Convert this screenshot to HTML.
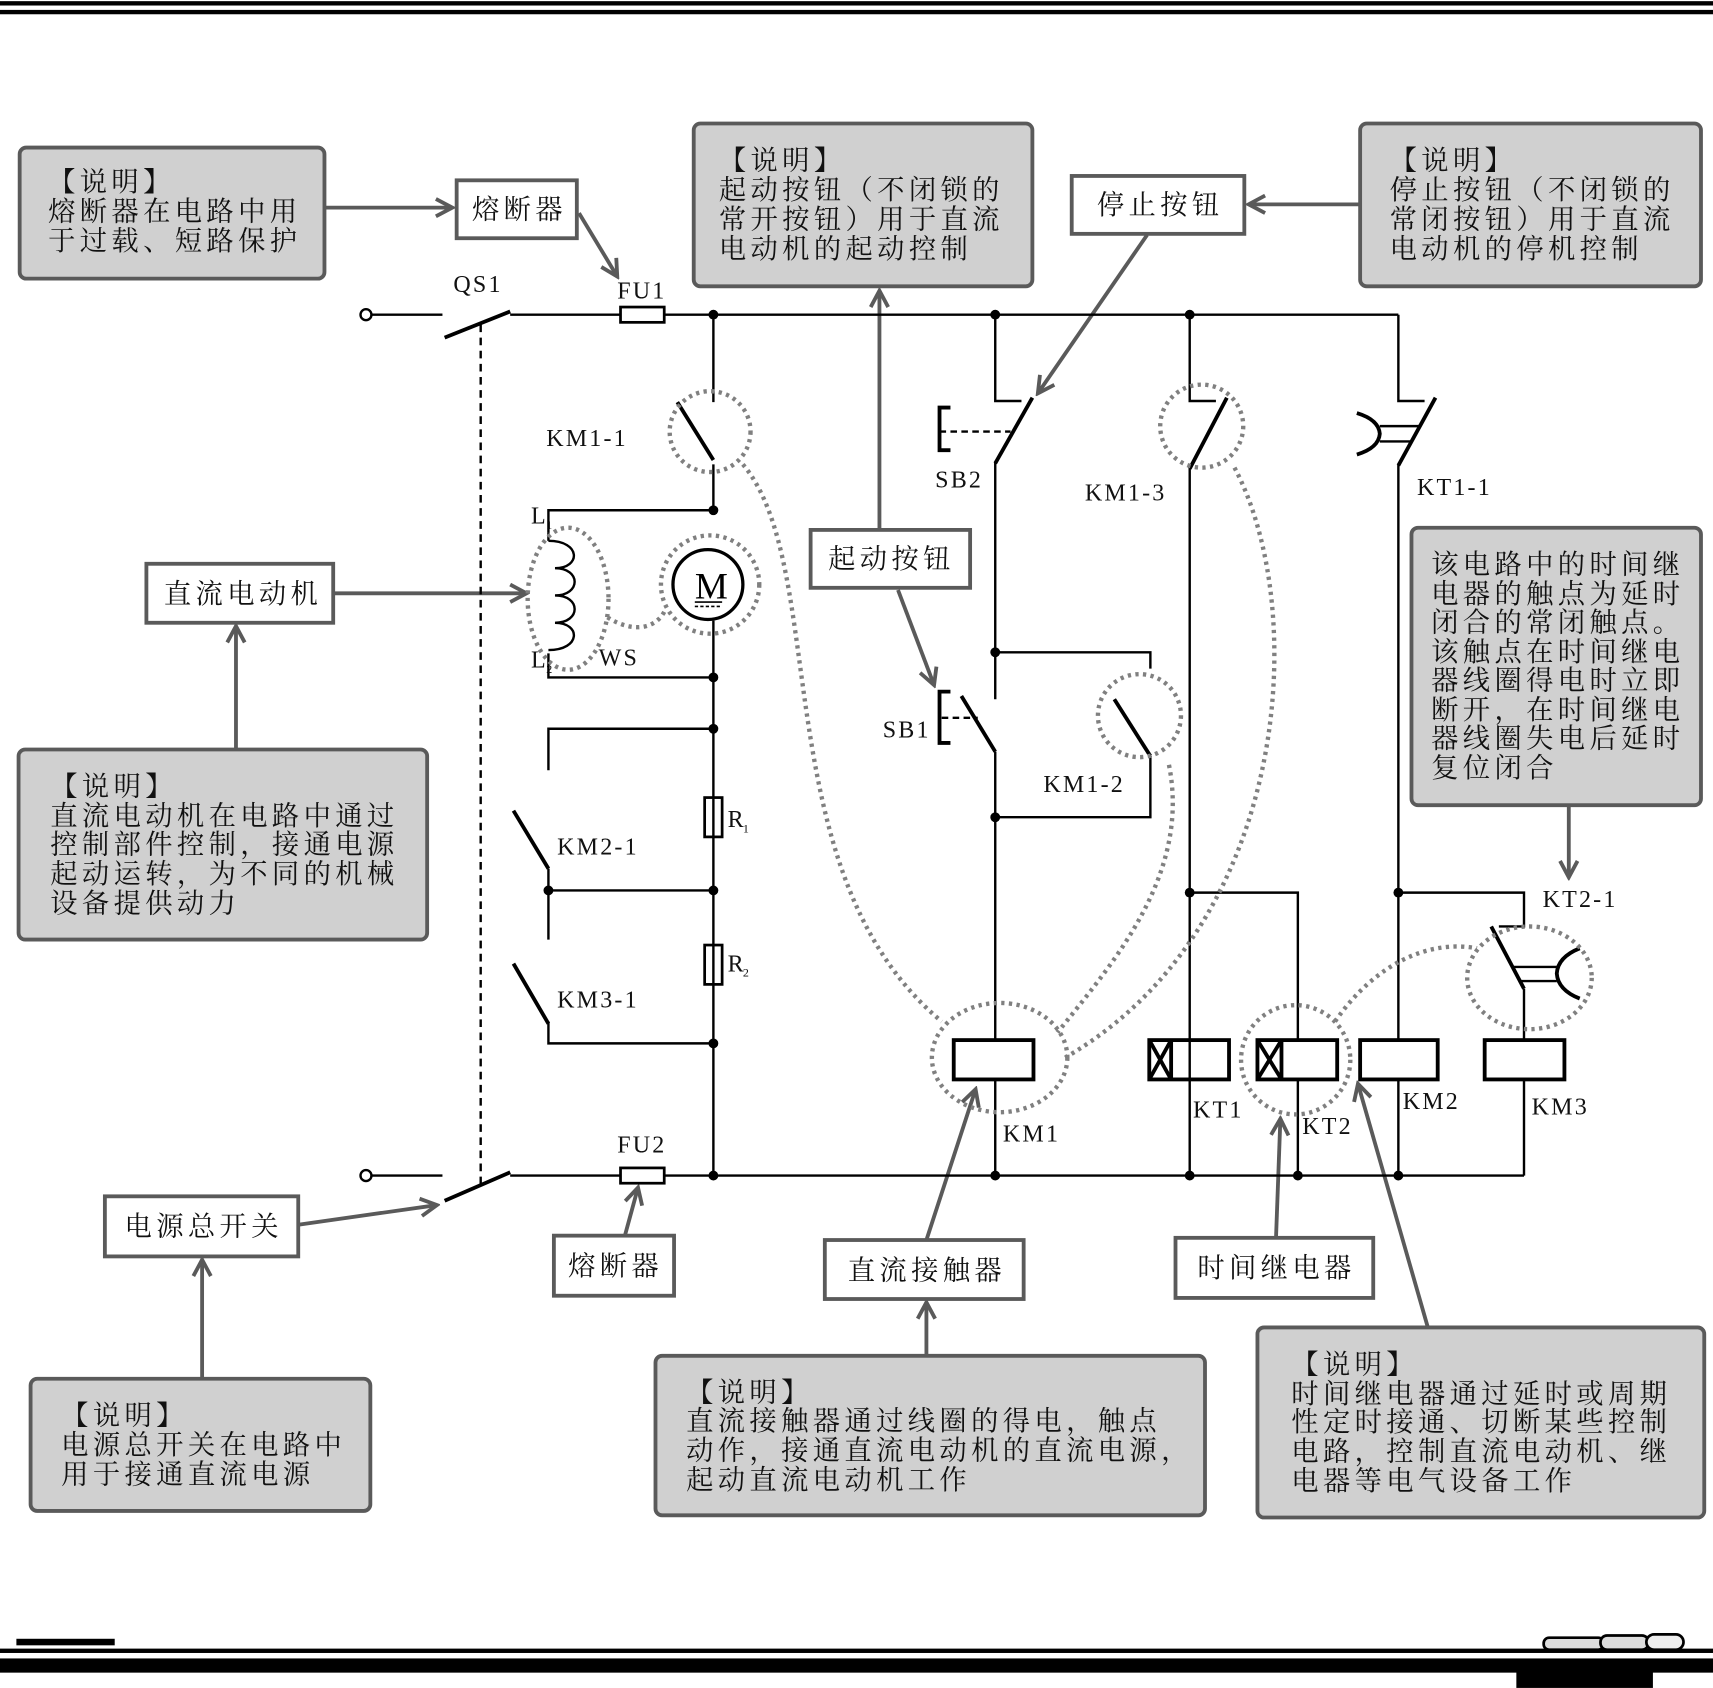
<!DOCTYPE html>
<html><head><meta charset="utf-8"><style>
html,body{margin:0;padding:0;background:#fff;}
svg{display:block;}
.cn{font-family:"Liberation Sans","Noto Serif CJK SC","Noto Sans CJK SC",sans-serif;font-size:25px;letter-spacing:4px;fill:#111;}
.lb{font-family:"Liberation Serif",serif;font-size:22px;fill:#111;letter-spacing:2px;}
.sub{font-family:"Liberation Serif",serif;font-size:11px;fill:#111;}
.gb{fill:#d0d0d0;stroke:#5a5a5a;stroke-width:3.5;}
.wb{fill:#fff;stroke:#5a5a5a;stroke-width:3.5;}
.w{stroke:#000;stroke-width:2.2;fill:none;}
.bl{stroke:#000;stroke-width:3.5;fill:none;}
.ar{stroke:#5a5a5a;stroke-width:3.5;fill:none;}
.dt{stroke:#808080;stroke-width:4;fill:none;stroke-dasharray:3 4;}
</style></head><body>
<svg width="1713" height="1688" viewBox="0 0 1568 1545" xmlns="http://www.w3.org/2000/svg">
<defs><marker id="a" markerWidth="10" markerHeight="10" refX="8" refY="5" orient="auto" markerUnits="userSpaceOnUse"><path d="M0,0 L9,5 L0,10" stroke="#5a5a5a" stroke-width="3" fill="none"/></marker>
<marker id="b" markerWidth="20" markerHeight="20" refX="17" refY="10" orient="auto" markerUnits="userSpaceOnUse"><path d="M2,2 L17,10 L2,18" stroke="#5a5a5a" stroke-width="3.5" fill="none"/></marker></defs>
<!-- borders -->
<rect x="0" y="1" width="1568" height="4" fill="#000"/>
<rect x="0" y="9" width="1568" height="4" fill="#000"/>
<rect x="15" y="1500" width="90" height="6" fill="#000"/>
<rect x="0" y="1509" width="1568" height="4" fill="#000"/>
<rect x="0" y="1518" width="1568" height="13" fill="#000"/>
<rect x="1388" y="1530" width="125" height="15" fill="#000"/>
<rect x="1413" y="1499" width="55" height="11" rx="5" fill="#ddd" stroke="#000" stroke-width="2.5"/>
<rect x="1465" y="1497" width="44" height="13" rx="6" fill="#ddd" stroke="#000" stroke-width="2.5"/>
<rect x="1507" y="1496" width="34" height="14" rx="7" fill="#eee" stroke="#000" stroke-width="2.5"/>

<!-- gray boxes -->
<rect class="gb" x="18" y="135" width="279" height="120" rx="6"/>
<text class="cn" x="44" y="175">【说明】</text><text class="cn" x="44" y="202">熔断器在电路中用</text><text class="cn" x="44" y="229">于过载、短路保护</text>
<rect class="gb" x="635" y="113" width="310" height="149" rx="6"/>
<text class="cn" x="658" y="155">【说明】</text><text class="cn" x="658" y="182">起动按钮（不闭锁的</text><text class="cn" x="658" y="209">常开按钮）用于直流</text><text class="cn" x="658" y="236">电动机的起动控制</text>
<rect class="gb" x="1245" y="113" width="312" height="149" rx="6"/>
<text class="cn" x="1272" y="155">【说明】</text><text class="cn" x="1272" y="182">停止按钮（不闭锁的</text><text class="cn" x="1272" y="209">常闭按钮）用于直流</text><text class="cn" x="1272" y="236">电动机的停机控制</text>
<rect class="gb" x="1292" y="483" width="265" height="254" rx="6"/>
<g class="cn"><text x="1310" y="525">该电路中的时间继</text><text x="1310" y="552">电器的触点为延时</text><text x="1310" y="578">闭合的常闭触点。</text><text x="1310" y="605">该触点在时间继电</text><text x="1310" y="631">器线圈得电时立即</text><text x="1310" y="658">断开，在时间继电</text><text x="1310" y="684">器线圈失电后延时</text><text x="1310" y="711">复位闭合</text></g>
<rect class="gb" x="17" y="686" width="374" height="174" rx="6"/>
<g class="cn"><text x="46" y="728">【说明】</text><text x="46" y="755">直流电动机在电路中通过</text><text x="46" y="781">控制部件控制，接通电源</text><text x="46" y="808">起动运转，为不同的机械</text><text x="46" y="835">设备提供动力</text></g>
<rect class="gb" x="28" y="1262" width="311" height="121" rx="6"/>
<g class="cn"><text x="56" y="1304">【说明】</text><text x="56" y="1331">电源总开关在电路中</text><text x="56" y="1358">用于接通直流电源</text></g>
<rect class="gb" x="600" y="1241" width="503" height="146" rx="6"/>
<g class="cn"><text x="628" y="1283">【说明】</text><text x="628" y="1309">直流接触器通过线圈的得电，触点</text><text x="628" y="1336">动作，接通直流电动机的直流电源，</text><text x="628" y="1363">起动直流电动机工作</text></g>
<rect class="gb" x="1151" y="1215" width="409" height="174" rx="6"/>
<g class="cn"><text x="1182" y="1257">【说明】</text><text x="1182" y="1284">时间继电器通过延时或周期</text><text x="1182" y="1310">性定时接通、切断某些控制</text><text x="1182" y="1337">电路，控制直流电动机、继</text><text x="1182" y="1364">电器等电气设备工作</text></g>

<!-- white label boxes -->
<rect class="wb" x="418" y="165" width="110" height="53"/><text class="cn" x="432" y="200">熔断器</text>
<rect class="wb" x="981" y="161" width="158" height="53"/><text class="cn" x="1004" y="196">停止按钮</text>
<rect class="wb" x="742" y="485" width="146" height="53"/><text class="cn" x="758" y="520">起动按钮</text>
<rect class="wb" x="134" y="516" width="171" height="54"/><text class="cn" x="150" y="552">直流电动机</text>
<rect class="wb" x="96" y="1095" width="177" height="55"/><text class="cn" x="114" y="1131">电源总开关</text>
<rect class="wb" x="507" y="1131" width="110" height="55"/><text class="cn" x="520" y="1167">熔断器</text>
<rect class="wb" x="755" y="1135" width="182" height="54"/><text class="cn" x="776" y="1171">直流接触器</text>
<rect class="wb" x="1076" y="1133" width="181" height="55"/><text class="cn" x="1096" y="1169">时间继电器</text>

<!-- arrows -->
<g class="ar" marker-end="url(#b)">
<line x1="297" y1="190" x2="414" y2="190"/>
<line x1="530" y1="195" x2="565" y2="253"/>
<line x1="805" y1="485" x2="805" y2="266"/>
<line x1="822" y1="540" x2="855" y2="627"/>
<line x1="1050" y1="215" x2="950" y2="360"/>
<line x1="1245" y1="187" x2="1143" y2="187"/>
<line x1="1436" y1="737" x2="1436" y2="803"/>
<line x1="305" y1="543" x2="482" y2="543"/>
<line x1="216" y1="686" x2="216" y2="573"/>
<line x1="273" y1="1121" x2="400" y2="1103"/>
<line x1="185" y1="1262" x2="185" y2="1153"/>
<line x1="572" y1="1131" x2="584" y2="1087"/>
<line x1="848" y1="1135" x2="893" y2="997"/>
<line x1="848" y1="1241" x2="848" y2="1192"/>
<line x1="1168" y1="1133" x2="1172" y2="1024"/>
<line x1="1307" y1="1215" x2="1243" y2="992"/>
</g>

<!-- circuit -->
<g class="w">
<circle cx="335" cy="288" r="5"/><line x1="340" y1="288" x2="405" y2="288"/>
<line x1="467" y1="288" x2="568" y2="288"/><line x1="608" y1="288" x2="1280" y2="288"/>
<circle cx="335" cy="1076" r="5"/><line x1="340" y1="1076" x2="405" y2="1076"/>
<line x1="467" y1="1076" x2="568" y2="1076"/><line x1="608" y1="1076" x2="1395" y2="1076"/>
<line x1="440" y1="297" x2="440" y2="1085" stroke-dasharray="7 5"/>
<!-- motor column -->
<line x1="653" y1="288" x2="653" y2="368"/><line x1="653" y1="425" x2="653" y2="467"/>
<line x1="653" y1="568" x2="653" y2="1076"/>
<polyline points="653,467 502,467 502,487"/><polyline points="502,598 502,620 653,620"/>
<path d="M502,495 C532,495 532,520 508,520 C532,520 532,545 508,545 C532,545 532,570 508,570 C532,570 532,595 502,595"/>
<line x1="502" y1="487" x2="502" y2="495"/>
<polyline points="653,667 502,667 502,705"/>
<line x1="502" y1="795" x2="502" y2="860"/>
<line x1="502" y1="815" x2="653" y2="815"/>
<polyline points="502,935 502,955 653,955"/>
<!-- SB column -->
<polyline points="911,288 911,367 935,367"/>
<line x1="911" y1="423" x2="911" y2="640"/>
<line x1="911" y1="688" x2="911" y2="952"/>
<line x1="911" y1="988" x2="911" y2="1076"/>
<polyline points="911,597 1053,597 1053,612"/>
<polyline points="1053,692 1053,748 911,748"/>
<line x1="860" y1="395" x2="925" y2="395" stroke-dasharray="6 4"/>
<line x1="862" y1="657" x2="895" y2="657" stroke-dasharray="6 4"/>
<!-- KM1-3 column -->
<polyline points="1089,288 1089,367 1113,367"/><line x1="1089" y1="428" x2="1089" y2="1076"/>
<polyline points="1089,817 1188,817 1188,952"/><line x1="1188" y1="988" x2="1188" y2="1076"/>
<!-- KT1-1 column -->
<polyline points="1280,288 1280,367 1304,367"/><line x1="1280" y1="425" x2="1280" y2="952"/>
<line x1="1280" y1="988" x2="1280" y2="1076"/>
<polyline points="1280,817 1395,817 1395,848 1372,848"/>
<line x1="1395" y1="905" x2="1395" y2="952"/><line x1="1395" y1="988" x2="1395" y2="1076"/>
<line x1="1263" y1="390" x2="1300" y2="390"/><line x1="1263" y1="404" x2="1293" y2="404"/>
<line x1="1385" y1="885" x2="1425" y2="885"/><line x1="1390" y1="898" x2="1425" y2="898"/>
</g>
<g class="bl">
<line x1="407" y1="309" x2="467" y2="285"/><line x1="407" y1="1099" x2="467" y2="1073"/>
<rect x="568" y="281" width="40" height="14" stroke-width="2.5"/><rect x="568" y="1069" width="40" height="14" stroke-width="2.5"/>
<line x1="620" y1="368" x2="653" y2="421"/>
<line x1="470" y1="742" x2="502" y2="795"/><line x1="470" y1="882" x2="502" y2="937"/>
<rect x="645" y="730" width="16" height="36" stroke-width="2.5"/><rect x="645" y="865" width="16" height="36" stroke-width="2.5"/>
<line x1="945" y1="364" x2="911" y2="424"/>
<line x1="880" y1="637" x2="911" y2="688"/>
<line x1="1020" y1="640" x2="1053" y2="692"/>
<line x1="1123" y1="364" x2="1089" y2="429"/>
<line x1="1314" y1="364" x2="1280" y2="426"/>
<line x1="1365" y1="848" x2="1395" y2="905"/>
<polyline points="870,373 860,373 860,412 870,412"/>
<polyline points="870,633 860,633 860,680 870,680"/>
<path d="M1242,378 Q1262,384 1263,397 Q1262,410 1242,416"/>
<path d="M1446,868 Q1426,876 1425,891 Q1426,906 1446,914"/>
<rect x="873" y="952" width="73" height="36"/>
<rect x="1052" y="952" width="73" height="36"/><line x1="1072" y1="952" x2="1072" y2="988"/>
<line x1="1052" y1="952" x2="1072" y2="988"/><line x1="1072" y1="952" x2="1052" y2="988"/>
<rect x="1151" y="952" width="73" height="36"/><line x1="1173" y1="952" x2="1173" y2="988"/>
<line x1="1151" y1="952" x2="1173" y2="988"/><line x1="1173" y1="952" x2="1151" y2="988"/>
<rect x="1245" y="952" width="71" height="36"/>
<rect x="1359" y="952" width="73" height="36"/>
</g>
<!-- motor -->
<circle cx="648" cy="535" r="32" fill="#fff" stroke="#000" stroke-width="3"/>
<text x="636" y="548" font-family="Liberation Serif,serif" font-size="34" fill="#000">M</text>
<line x1="636" y1="551" x2="661" y2="551" stroke="#000" stroke-width="1.5"/><line x1="636" y1="555" x2="661" y2="555" stroke="#000" stroke-width="1.5" stroke-dasharray="3 2"/>
<!-- dots -->
<g fill="#000">
<circle cx="653" cy="288" r="4.5"/><circle cx="911" cy="288" r="4.5"/><circle cx="1089" cy="288" r="4.5"/>
<circle cx="653" cy="467" r="4.5"/><circle cx="653" cy="620" r="4.5"/><circle cx="653" cy="667" r="4.5"/>
<circle cx="653" cy="815" r="4.5"/><circle cx="502" cy="815" r="4.5"/><circle cx="653" cy="955" r="4.5"/>
<circle cx="911" cy="597" r="4.5"/><circle cx="911" cy="748" r="4.5"/>
<circle cx="1089" cy="817" r="4.5"/><circle cx="1280" cy="817" r="4.5"/>
<circle cx="653" cy="1076" r="4.5"/><circle cx="911" cy="1076" r="4.5"/><circle cx="1089" cy="1076" r="4.5"/><circle cx="1188" cy="1076" r="4.5"/><circle cx="1280" cy="1076" r="4.5"/>
</g>
<!-- dotted -->
<g class="dt">
<circle cx="650" cy="395" r="37"/>
<ellipse cx="520" cy="548" rx="37" ry="65"/>
<circle cx="650" cy="535" r="45"/>
<circle cx="1043" cy="655" r="38"/>
<circle cx="1100" cy="390" r="38"/>
<ellipse cx="915" cy="968" rx="62" ry="50"/>
<circle cx="1186" cy="970" r="50"/>
<ellipse cx="1400" cy="895" rx="57" ry="47"/>
<path d="M680,425 C760,520 700,800 862,935"/>
<path d="M1130,428 C1200,560 1180,850 975,968"/>
<path d="M1070,700 C1090,800 1020,880 968,945"/>
<path d="M556,565 C580,580 600,575 608,560"/>
<path d="M1222,935 C1260,880 1310,860 1352,868"/>
</g>
<!-- labels -->
<g class="lb">
<text x="415" y="267">QS1</text><text x="565" y="273">FU1</text><text x="565" y="1055">FU2</text>
<text x="500" y="408">KM1-1</text>
<text x="486" y="479">L</text><text x="486" y="611">L</text><text x="548" y="609">WS</text>
<text x="666" y="757">R</text><text x="666" y="889">R</text>
<text x="510" y="782">KM2-1</text><text x="510" y="922">KM3-1</text>
<text x="856" y="446">SB2</text><text x="808" y="675">SB1</text>
<text x="955" y="725">KM1-2</text><text x="993" y="458">KM1-3</text>
<text x="1297" y="453">KT1-1</text><text x="1412" y="830">KT2-1</text>
<text x="918" y="1045">KM1</text><text x="1092" y="1023">KT1</text><text x="1192" y="1038">KT2</text>
<text x="1284" y="1015">KM2</text><text x="1402" y="1020">KM3</text>
</g>
<g class="sub"><text x="500" y="484">1</text><text x="500" y="616">2</text><text x="680" y="762">1</text><text x="680" y="894">2</text></g>
</svg>
</body></html>
